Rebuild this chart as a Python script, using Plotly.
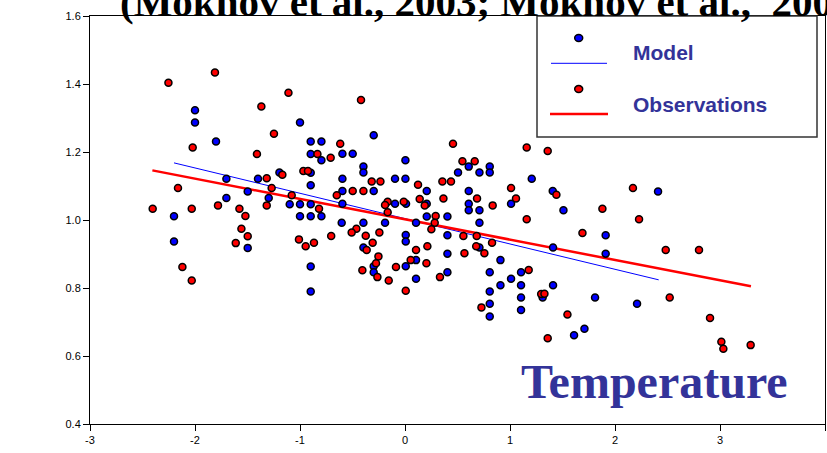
import plotly.graph_objects as go

# ---------------- data ----------------
model_x = [-2.000, -2.000, -1.000, -1.800, -0.898, -0.796, -0.898, -0.796, -1.196, -0.898,
           -1.701, -1.400, -0.898, -1.498, -1.701, -1.298, -1.098, -1.000, -0.898, -2.200,
           -1.000, -0.898, -0.796, -0.603, -1.498, -2.200, -0.898, -0.898, -0.298, -0.596,
           -0.498, 0.004, -0.396, 0.607, 0.807, -0.396, 0.505, 0.709, 0.807, -0.596,
           -0.095, 0.004, 1.207, -0.596, -0.298, 0.207, 0.607, 1.407, -0.596, -0.095,
           0.010, 0.207, 0.607, 1.010, 1.509, 0.607, 0.709, 0.207, 0.404, -0.396,
           -0.190, 0.105, 0.709, 0.007, 0.404, 0.007, 1.410, -0.396, 0.709, 0.404,
           -0.298, 0.105, 0.909, -0.298, 0.007, 0.404, 0.105, 0.807, 1.105, 1.010,
           0.909, 1.105, 1.410, 0.807, 1.311, 1.105, 0.807, 1.105, 0.807, 1.610,
           2.410, 1.911, 1.911, 1.810, 2.210, 1.709]
model_y = [1.323, 1.287, 1.287, 1.231, 1.231, 1.231, 1.194, 1.176, 1.140, 1.139,
           1.121, 1.121, 1.102, 1.084, 1.065, 1.065, 1.046, 1.046, 1.046, 1.011,
           1.011, 1.011, 1.011, 0.992, 0.918, 0.937, 0.863, 0.790, 1.249, 1.195,
           1.195, 1.176, 1.157, 1.157, 1.157, 1.140, 1.140, 1.140, 1.140, 1.121,
           1.121, 1.121, 1.121, 1.085, 1.085, 1.085, 1.085, 1.085, 1.048, 1.048,
           1.048, 1.048, 1.048, 1.048, 1.029, 1.029, 1.029, 1.010, 1.010, 0.992,
           0.992, 0.992, 0.992, 0.956, 0.955, 0.937, 0.919, 0.919, 0.919, 0.901,
           0.864, 0.882, 0.882, 0.846, 0.864, 0.846, 0.827, 0.846, 0.846, 0.827,
           0.808, 0.808, 0.808, 0.790, 0.772, 0.772, 0.754, 0.735, 0.716, 0.661,
           1.084, 0.955, 0.901, 0.772, 0.754, 0.680]

obs_x = [-2.253, -1.810, -1.110, -1.368, -1.248, -0.617, -2.022, -1.410, -0.834, -0.708,
         -1.168, -0.968, -0.924, -1.317, -2.162, -1.270, -1.079, -0.650, -1.781, -1.317,
         -2.403, -2.031, -1.577, -0.819, -1.520, -1.558, -1.498, -1.612, -1.010, -0.946,
         -0.867, -0.703, -2.120, -2.031, -0.419, 0.457, 1.159, 1.359, 0.547, 0.664,
         -0.317, -0.234, 0.356, 0.438, 0.124, 1.010, -0.498, -0.396, 1.442, 0.140,
         0.366, 0.686, 1.057, -0.165, -0.190, -0.012, 0.188, 0.835, -0.165, 0.292,
         1.159, 0.283, -0.463, -0.508, 0.251, -0.374, -0.244, 0.556, 0.683, -0.308,
         0.829, -0.365, 0.678, 0.105, 0.213, -0.253, 0.566, 0.756, -0.276, 0.054,
         0.204, -0.406, -0.263, -0.086, 0.333, -0.155, 1.178, 0.007, 1.297, 1.328,
         0.728, 1.547, 1.359, 2.171, 1.880, 2.229, 1.690, 2.483, 2.800, 2.521,
         2.905, 3.013, 3.032, 3.292]
obs_y = [1.404, 1.434, 1.374, 1.334, 1.254, 1.224, 1.213, 1.194, 1.194, 1.183,
         1.133, 1.144, 1.144, 1.123, 1.094, 1.094, 1.073, 1.073, 1.043, 1.043,
         1.033, 1.033, 1.033, 1.033, 1.012, 0.974, 0.952, 0.932, 0.943, 0.923,
         0.933, 0.953, 0.862, 0.822, 1.353, 1.224, 1.213, 1.203, 1.173, 1.173,
         1.113, 1.113, 1.113, 1.113, 1.104, 1.094, 1.085, 1.085, 1.074, 1.062,
         1.063, 1.063, 1.063, 1.054, 1.044, 1.054, 1.043, 1.043, 1.023, 1.012,
         1.002, 0.992, 0.974, 0.963, 0.973, 0.954, 0.963, 0.953, 0.953, 0.933,
         0.933, 0.912, 0.923, 0.912, 0.923, 0.893, 0.902, 0.902, 0.873, 0.882,
         0.873, 0.852, 0.832, 0.862, 0.832, 0.822, 0.853, 0.792, 0.782, 0.783,
         0.743, 0.722, 0.652, 1.094, 1.033, 1.002, 0.962, 0.912, 0.912, 0.772,
         0.712, 0.642, 0.621, 0.632]

# regression lines (end points)
model_fit_x = [-2.200, 2.416]
model_fit_y = [1.168, 0.824]
obs_fit_x = [-2.406, 3.295]
obs_fit_y = [1.146, 0.805]

x_ticks = [-3, -2, -1, 0, 1, 2, 3, 4]
y_ticks = [0.4, 0.6, 0.8, 1.0, 1.2, 1.4, 1.6]

title_text = "(Mokhov et al., 2003; Mokhov et al.,  2005)"
label_text = "Temperature"
legend_names = ["Model", "Observations"]

# ---------------- figure ----------------
W, H = 827, 453
L, R, T, B = 90, 2, 16, 29
PW, PH = W - L - R, H - T - B


def px(xp):
    return (xp - L) / PW


def py(yp):
    return (H - B - yp) / PH


fig = go.Figure()
fig.add_trace(go.Scatter(x=model_fit_x, y=model_fit_y, mode="lines",
                         line=dict(color="#0000ff", width=1), showlegend=False))
fig.add_trace(go.Scatter(x=obs_fit_x, y=obs_fit_y, mode="lines",
                         line=dict(color="#ff0000", width=2.5), showlegend=False))
fig.add_trace(go.Scatter(x=model_x, y=model_y, mode="markers", name=legend_names[0],
                         marker=dict(color="#0000ff", size=7, line=dict(color="black", width=1.5)),
                         showlegend=False))
fig.add_trace(go.Scatter(x=obs_x, y=obs_y, mode="markers", name=legend_names[1],
                         marker=dict(color="#ff0000", size=7, line=dict(color="black", width=1.5)),
                         showlegend=False))

shapes = []
# legend box
shapes.append(dict(type="rect", xref="paper", yref="paper", x0=px(537), x1=px(817),
                   y0=py(137), y1=py(16), line=dict(color="#333333", width=1.5),
                   fillcolor="white", layer="above"))
for cy, col in [(38, "#0000ff"), (89, "#ff0000")]:
    shapes.append(dict(type="circle", xref="paper", yref="paper",
                       x0=px(578.7 - 4), x1=px(578.7 + 4), y0=py(cy + 3.4), y1=py(cy - 3.4),
                       fillcolor=col, line=dict(color="black", width=1.5), layer="above"))
shapes.append(dict(type="line", xref="paper", yref="paper", x0=px(551), x1=px(607),
                   y0=py(63.3), y1=py(63.3), line=dict(color="#0000ff", width=1), layer="above"))
shapes.append(dict(type="line", xref="paper", yref="paper", x0=px(550), x1=px(608),
                   y0=py(114), y1=py(114), line=dict(color="#ff0000", width=2.5), layer="above"))

annotations = [
    dict(text=legend_names[0], xref="paper", yref="paper", x=px(631), y=py(52.5),
         xanchor="left", yanchor="middle", showarrow=False,
         font=dict(family="Arial, Liberation Sans", size=21, color="#333399", weight="bold")),
    dict(text=legend_names[1], xref="paper", yref="paper", x=px(631), y=py(104.5),
         xanchor="left", yanchor="middle", showarrow=False,
         font=dict(family="Arial, Liberation Sans", size=21, color="#333399", weight="bold")),
    dict(text=label_text, xref="paper", yref="paper", x=px(654), y=py(381.5),
         xanchor="center", yanchor="middle", showarrow=False,
         font=dict(family="Times New Roman, Liberation Serif", size=48, color="#333399",
                   weight="bold")),
    dict(text=title_text, xref="paper", yref="paper", x=px(118), y=py(27),
         xanchor="left", yanchor="bottom", showarrow=False,
         font=dict(family="Times New Roman, Liberation Serif", size=41, color="black",
                   weight="bold")),
]

fig.update_layout(
    width=W, height=H, margin=dict(l=L, r=R, t=T, b=B),
    paper_bgcolor="white", plot_bgcolor="white",
    shapes=shapes, annotations=annotations, showlegend=False,
    font=dict(family="Arial, Liberation Sans", size=11, color="black"),
)
fig.update_xaxes(range=[-3, 4], tickvals=x_ticks, ticktext=[str(v) for v in x_ticks],
                 showgrid=False, zeroline=False, showline=True, mirror=True,
                 linecolor="black", linewidth=1, ticks="outside", ticklen=6,
                 tickcolor="black", tickfont=dict(size=11))
fig.update_yaxes(range=[0.4, 1.6], tickvals=y_ticks, ticktext=[f"{v:.1f}" for v in y_ticks],
                 showgrid=False, zeroline=False, showline=True, mirror=True,
                 linecolor="black", linewidth=1, ticks="outside", ticklen=6,
                 tickcolor="black", tickfont=dict(size=11))

fig.write_html("out.html", config={"displayModeBar": False},
               post_script="document.body.style.margin='0';")
